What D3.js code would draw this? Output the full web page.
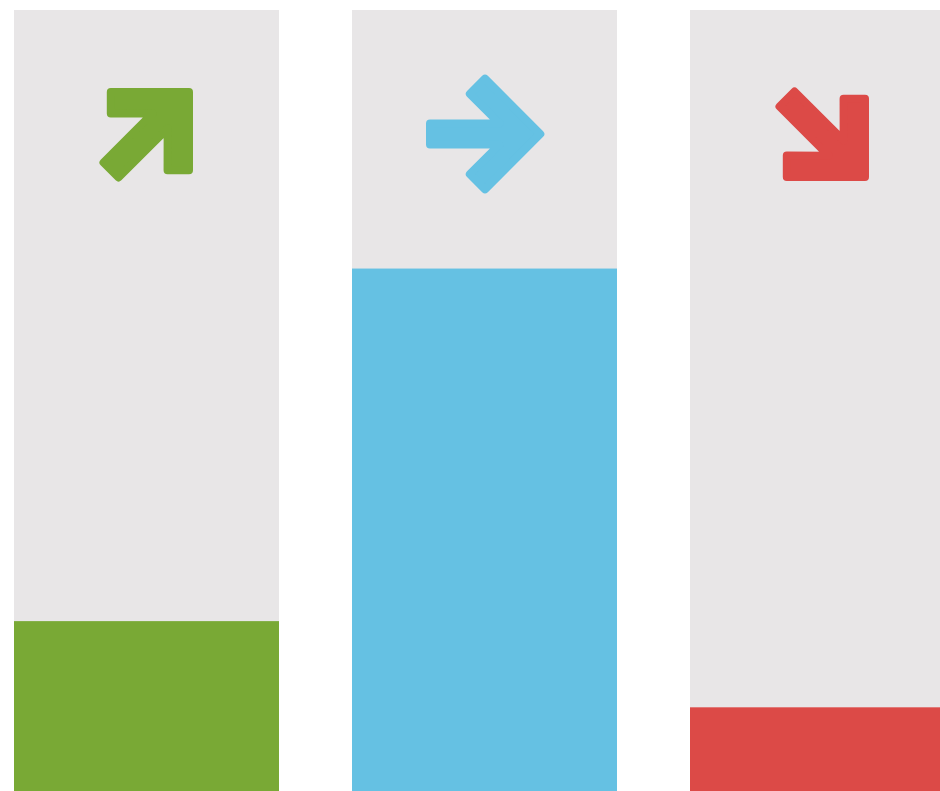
<!DOCTYPE html>
<html>
<head>
<meta charset="utf-8">
<script src="https://cdn.jsdelivr.net/npm/d3@7"></script>
<style>
html,body{margin:0;padding:0;background:#fff;overflow:hidden;}
svg{display:block;}
</style>
</head>
<body>
<svg id="chart" width="940" height="791"></svg>
<script>
// data
const categories = ["up", "flat", "down"];
const values = [22, 67, 11];
const colors = ["#79a935", "#65c1e3", "#dc4a47"];
const arrowAngles = [-45, 0, 45];

const svg = d3.select("#chart");
const plotTop = 10, plotBottom = 793.5;

const x = d3.scaleBand()
  .domain(categories)
  .range([14, 955])
  .paddingInner(73 / 338)
  .paddingOuter(0);

const y = d3.scaleLinear().domain([0, 100]).range([plotBottom, plotTop]);

// background columns
svg.selectAll("rect.bg").data(categories).join("rect")
  .attr("class", "bg")
  .attr("x", d => x(d))
  .attr("y", y(100))
  .attr("width", x.bandwidth())
  .attr("height", y(0) - y(100))
  .attr("fill", "#e8e6e7");

// value bars
svg.selectAll("rect.bar").data(categories).join("rect")
  .attr("class", "bar")
  .attr("x", d => x(d))
  .attr("y", (d, i) => y(values[i]))
  .attr("width", x.bandwidth())
  .attr("height", (d, i) => y(0) - y(values[i]))
  .attr("fill", (d, i) => colors[i]);

// arrow icon (right-pointing, centred at origin, inset for rounded stroke)
const arrowPts = [
  [55.3, 0], [0, -55.3], [-15.15, -40.15], [14.5, -10.6], [-55, -10.6],
  [-55, 10.6], [14.5, 10.6], [-15.15, 40.15], [0, 55.3]
];
const arrowPath = d3.line()(arrowPts) + "Z";

svg.selectAll("path.arrow").data(categories).join("path")
  .attr("class", "arrow")
  .attr("d", arrowPath)
  .attr("fill", (d, i) => colors[i])
  .attr("stroke", (d, i) => colors[i])
  .attr("stroke-width", 8)
  .attr("stroke-linejoin", "round")
  .attr("transform", (d, i) => {
    const a = arrowAngles[i];
    const cx = x(d) + x.bandwidth() / 2;
    const cy = 134.5;
    const off = a === 0 ? [0.5, -0.5] : [3.4, a < 0 ? -3.4 : 3.4];
    return `translate(${cx + off[0]},${cy + off[1]}) rotate(${a})`;
  });
</script>
</body>
</html>
